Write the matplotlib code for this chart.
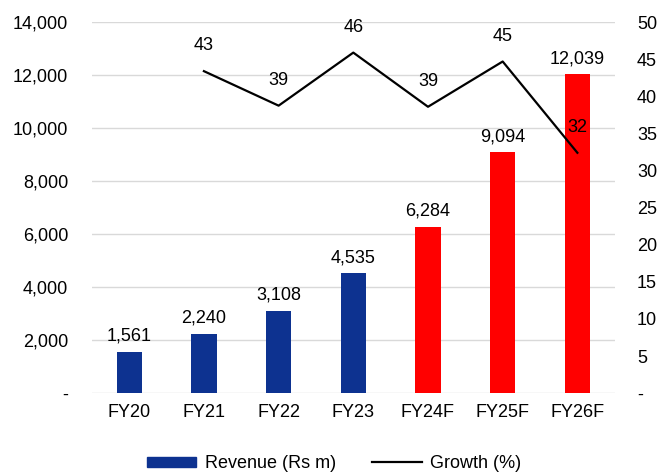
import matplotlib
matplotlib.use("Agg")
import matplotlib.pyplot as plt
from matplotlib.ticker import FuncFormatter
from matplotlib.patches import Patch
from matplotlib.lines import Line2D

plt.rcParams['font.family'] = ['Liberation Sans', 'DejaVu Sans']

years = ["FY20", "FY21", "FY22", "FY23", "FY24F", "FY25F", "FY26F"]
revenue = [1561, 2240, 3108, 4535, 6284, 9094, 12039]
growth_years = ["FY21", "FY22", "FY23", "FY24F", "FY25F", "FY26F"]
growth = [43.4, 38.75, 45.9, 38.6, 44.7, 32.4]

BLUE = "#0D3290"
RED = "#FF0000"
colors = [BLUE] * 4 + [RED] * 3
FS = 13

fig = plt.figure(figsize=(6.61, 4.72), dpi=100)
ax = fig.add_axes([0.139, 0.167, 0.791, 0.786])
x = list(range(len(years)))
ax.bar(x, revenue, width=0.34, color=colors, zorder=2)
for xi, v in zip(x, revenue):
    ax.annotate(f"{v:,}", (xi, v), xytext=(0, 5), textcoords="offset points",
                ha="center", va="bottom", fontsize=FS)

ax.set_ylim(0, 14000)
ax.set_xlim(-0.5, len(years) - 0.5)
ax.set_yticks(range(0, 14001, 2000))
ax.yaxis.set_major_formatter(FuncFormatter(lambda v, p: "-" if v == 0 else f"{int(v):,}"))
ax.grid(axis="y", color="#D9D9D9", linewidth=1, zorder=0)
ax.set_xticks(x)
ax.set_xticklabels(years)
for s in ax.spines.values():
    s.set_visible(False)
ax.tick_params(axis="y", length=0, labelsize=FS, pad=17)
ax.tick_params(axis="x", length=0, labelsize=FS, pad=8)

ax2 = ax.twinx()
gx = [years.index(y) for y in growth_years]
ax2.plot(gx, growth, color="black", linewidth=1.6, zorder=3)
for xi, g in zip(gx, growth):
    ax2.annotate(f"{g:.0f}", (xi, g), xytext=(0, 12), textcoords="offset points",
                 ha="center", va="bottom", fontsize=FS)
ax2.set_ylim(0, 50)
ax2.set_yticks(range(0, 51, 5))
ax2.yaxis.set_major_formatter(FuncFormatter(lambda v, p: "-" if v == 0 else f"{int(v)}"))
for s in ax2.spines.values():
    s.set_visible(False)
ax2.tick_params(length=0, labelsize=FS, pad=16)

handles = [Patch(color=BLUE, label="Revenue (Rs m)"),
           Line2D([0], [0], color="black", linewidth=1.6, label="Growth (%)")]
fig.legend(handles=handles, loc="lower center", ncol=2, frameon=False, fontsize=FS,
           bbox_to_anchor=(0.505, -0.035), handlelength=2.75, handleheight=0.5,
           handletextpad=0.45, columnspacing=2.0)

fig.savefig("out.png", dpi=100)
